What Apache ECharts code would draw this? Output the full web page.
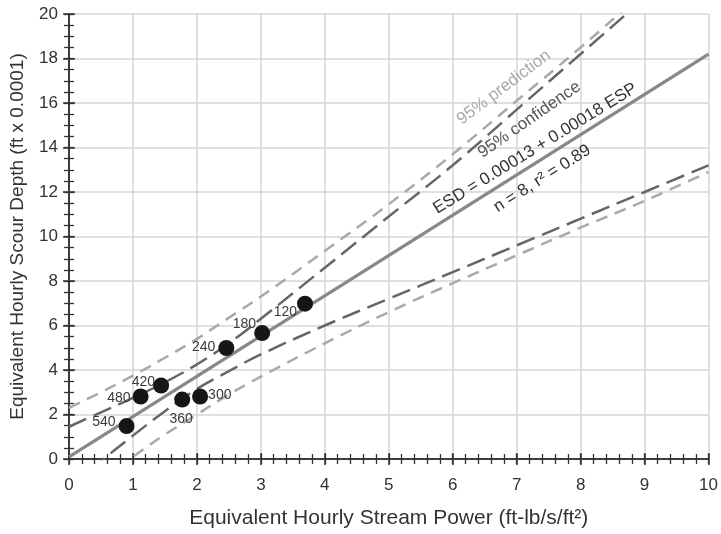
<!DOCTYPE html>
<html>
<head>
<meta charset="utf-8">
<script src="https://cdn.jsdelivr.net/npm/echarts@6/dist/echarts.min.js"></script>
<style>html,body{margin:0;padding:0;background:#fff;}#c{width:721px;height:534px;}</style>
</head>
<body>
<div id="c"></div>
<script>
// ---- data ----
const pointNames = ['540', '480', '420', '360', '300', '240', '180', '120'];
const pointX = [0.90, 1.12, 1.44, 1.77, 2.05, 2.46, 3.02, 3.69];
const pointY = [1.48, 2.81, 3.30, 2.67, 2.81, 4.99, 5.66, 6.98];

const fitX = [0, 10];
const fitY = [0.1, 18.2];

const bandX = [0, 0.5, 1, 1.5, 2, 2.5, 3, 4, 5, 6, 7, 8, 9, 10];
const confUpper = [1.45, 2.1, 2.75, 3.45, 4.25, 5.2, 6.3, 8.6, 10.9, 13.2, 15.7, 18.2, 20.7, 23.1];
const confLower = [-1.3, -0.1, 1.05, 2.15, 3.15, 3.95, 4.7, 6.0, 7.2, 8.4, 9.6, 10.8, 12.0, 13.2];
const predUpper = [2.3, 3.0, 3.75, 4.55, 5.4, 6.35, 7.3, 9.35, 11.45, 13.7, 16.1, 18.5, 21.0, 23.4];
const predLower = [-2.0, -0.95, 0.1, 1.1, 2.0, 2.9, 3.7, 5.2, 6.6, 7.9, 9.15, 10.4, 11.6, 12.9];

const xTicks = [0, 1, 2, 3, 4, 5, 6, 7, 8, 9, 10];
const yTicks = [0, 2, 4, 6, 8, 10, 12, 14, 16, 18, 20];

// annotation anchors (data coords) with text
const annoText = ['95% prediction', '95% confidence', 'ESD = 0.00013 + 0.00018 ESP', 'n = 8, r\u00B2 = 0.89'];
const annoX = [6.80, 7.20, 7.29, 7.40];
const annoY = [16.7, 15.25, 13.95, 12.6];

// ---- styling (not data) ----
const labelCfg = {
  '540': {position: 'left', offset: [1, -4]},
  '480': {position: 'left', offset: [2, 2]},
  '420': {position: 'left', offset: [6, -3]},
  '360': {position: 'bottom', offset: [-1, 1]},
  '300': {position: 'right', offset: [-4, -1]},
  '240': {position: 'left', offset: [1, -1]},
  '180': {position: 'left', offset: [6, -9]},
  '120': {position: 'left', offset: [4, 8]}
};
const annoStyle = [
  {color: '#a8a8a8', rot: 37},
  {color: '#555555', rot: 35},
  {color: '#333333', rot: 31.5},
  {color: '#333333', rot: 32.5}
];

const FONT = 'Liberation Sans, Arial, sans-serif';
const axisColor = '#333333';

function zip(xs, ys) { return xs.map((x, i) => [x, ys[i]]); }

const chart = echarts.init(document.getElementById('c'), null, {renderer: 'canvas'});

const commonX = {type: 'value', min: 0, max: 10, gridIndex: 0};
const commonY = {type: 'value', min: 0, max: 20, gridIndex: 0};

const option = {
  animation: false,
  backgroundColor: '#fff',
  grid: {left: 68, right: 10, top: 14, bottom: 71, containLabel: false},
  xAxis: [
    Object.assign({}, commonX, {
      position: 'bottom', interval: 1,
      name: 'Equivalent Hourly Stream Power (ft-lb/s/ft\u00B2)',
      nameLocation: 'middle', nameGap: 49,
      nameTextStyle: {fontFamily: FONT, fontSize: 21, color: '#333'},
      axisLine: {show: true, lineStyle: {color: axisColor, width: 1.5}},
      axisTick: {show: true, inside: false, length: 6, lineStyle: {color: axisColor, width: 1.5}},
      axisLabel: {show: true, fontFamily: FONT, fontSize: 17, color: '#333', margin: 18,
        formatter: v => xTicks.indexOf(v) >= 0 ? String(v) : ''},
      splitLine: {show: true, lineStyle: {color: '#d6d6d6', width: 1.5}}
    }),
    Object.assign({}, commonX, {
      position: 'bottom', interval: 0.2,
      axisLine: {show: false}, axisLabel: {show: false}, splitLine: {show: false},
      axisTick: {show: true, inside: true, length: 5, lineStyle: {color: axisColor, width: 1.3}}
    }),
    Object.assign({}, commonX, {
      position: 'top', interval: 1,
      axisLine: {show: true, lineStyle: {color: axisColor, width: 1.5}},
      axisLabel: {show: false}, splitLine: {show: false},
      axisTick: {show: true, inside: false, length: 6, lineStyle: {color: axisColor, width: 1.5}}
    }),
    Object.assign({}, commonX, {
      position: 'top', interval: 0.2,
      axisLine: {show: false}, axisLabel: {show: false}, splitLine: {show: false},
      axisTick: {show: true, inside: true, length: 5, lineStyle: {color: axisColor, width: 1.3}}
    })
  ],
  yAxis: [
    Object.assign({}, commonY, {
      position: 'left', interval: 2,
      name: 'Equivalent Hourly Scour Depth (ft x 0.0001)',
      nameLocation: 'middle', nameGap: 42, nameRotate: 90,
      nameTextStyle: {fontFamily: FONT, fontSize: 19, color: '#333'},
      axisLine: {show: true, lineStyle: {color: axisColor, width: 1.5}},
      axisTick: {show: true, inside: false, length: 6, lineStyle: {color: axisColor, width: 1.5}},
      axisLabel: {show: true, fontFamily: FONT, fontSize: 17, color: '#333', margin: 11,
        formatter: v => yTicks.indexOf(v) >= 0 ? String(v) : ''},
      splitLine: {show: true, lineStyle: {color: '#d6d6d6', width: 1.5}}
    }),
    Object.assign({}, commonY, {
      position: 'left', interval: 0.5,
      axisLine: {show: false}, axisLabel: {show: false}, splitLine: {show: false},
      axisTick: {show: true, inside: true, length: 5, lineStyle: {color: axisColor, width: 1.3}}
    }),
    Object.assign({}, commonY, {
      position: 'right', interval: 2,
      axisLine: {show: true, lineStyle: {color: axisColor, width: 1.5}},
      axisLabel: {show: false}, splitLine: {show: false},
      axisTick: {show: true, inside: false, length: 6, lineStyle: {color: axisColor, width: 1.5}}
    }),
    Object.assign({}, commonY, {
      position: 'right', interval: 0.5,
      axisLine: {show: false}, axisLabel: {show: false}, splitLine: {show: false},
      axisTick: {show: true, inside: true, length: 5, lineStyle: {color: axisColor, width: 1.3}}
    })
  ],
  series: [
    {
      type: 'line', name: 'pred upper', data: zip(bandX, predUpper), smooth: 0.4,
      showSymbol: false, symbol: 'none', clip: true, z: 3,
      lineStyle: {color: '#a9a9a9', width: 2.5, type: [12, 8]}
    },
    {
      type: 'line', name: 'pred lower', data: zip(bandX, predLower), smooth: 0.4,
      showSymbol: false, symbol: 'none', clip: true, z: 3,
      lineStyle: {color: '#a9a9a9', width: 2.5, type: [12, 8]}
    },
    {
      type: 'line', name: 'conf upper', data: zip(bandX, confUpper), smooth: 0.4,
      showSymbol: false, symbol: 'none', clip: true, z: 4,
      lineStyle: {color: '#666666', width: 2.5, type: [19, 8]}
    },
    {
      type: 'line', name: 'conf lower', data: zip(bandX, confLower), smooth: 0.4,
      showSymbol: false, symbol: 'none', clip: true, z: 4,
      lineStyle: {color: '#666666', width: 2.5, type: [19, 8]}
    },
    {
      type: 'line', name: 'fit', data: zip(fitX, fitY),
      showSymbol: false, symbol: 'none', clip: true, z: 5,
      lineStyle: {color: '#888888', width: 3.2}
    },
    {
      type: 'scatter', name: 'points', z: 6,
      symbol: 'circle', symbolSize: 16,
      itemStyle: {color: '#161616', opacity: 1},
      data: pointX.map((x, i) => ({
        value: [x, pointY[i]],
        name: pointNames[i],
        label: Object.assign({
          show: true, formatter: pointNames[i], distance: 4,
          fontFamily: FONT, fontSize: 14, color: '#3a3a3a'
        }, labelCfg[pointNames[i]])
      }))
    }
  ]
};

chart.setOption(option);

// rotated annotations positioned from data coordinates
const graphics = annoText.map((t, i) => {
  const p = chart.convertToPixel({xAxisIndex: 0, yAxisIndex: 0}, [annoX[i], annoY[i]]);
  return {
    type: 'text', x: p[0], y: p[1], rotation: annoStyle[i].rot * Math.PI / 180, z: 10,
    style: {text: t, fill: annoStyle[i].color, font: '17px ' + FONT, align: 'center', verticalAlign: 'middle'}
  };
});
chart.setOption({graphic: graphics});
</script>
</body>
</html>
